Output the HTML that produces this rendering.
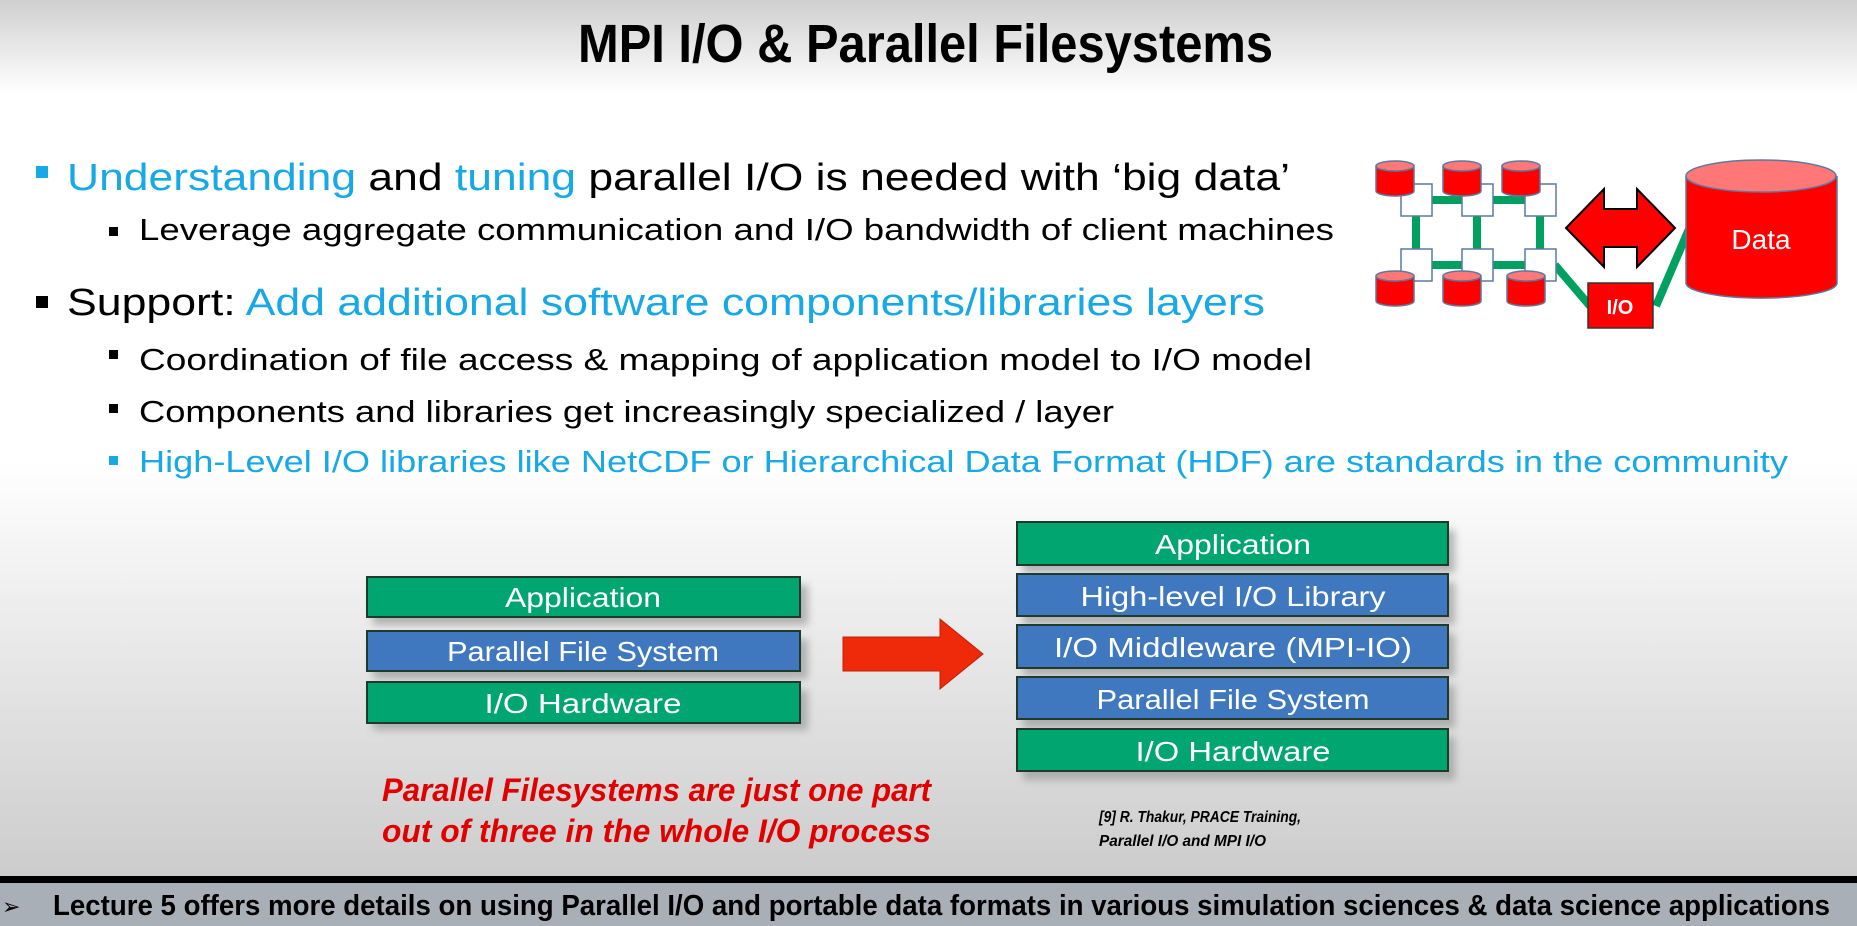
<!DOCTYPE html>
<html><head><meta charset="utf-8"><style>html,body{margin:0;padding:0;width:1857px;height:926px;overflow:hidden}svg{display:block}</style></head>
<body>
<svg width="1857" height="926" viewBox="0 0 1857 926" xmlns="http://www.w3.org/2000/svg" font-family="'Liberation Sans', sans-serif">
<defs>
<linearGradient id="bg" x1="0" y1="0" x2="0" y2="1">
<stop offset="0" stop-color="#cfcfcf"/>
<stop offset="0.1" stop-color="#ffffff"/>
<stop offset="0.5" stop-color="#ffffff"/>
<stop offset="1" stop-color="#c6c6c6"/>
</linearGradient>
<filter id="sh" x="-10%" y="-30%" width="130%" height="180%"><feGaussianBlur stdDeviation="4"/></filter>
</defs>
<rect width="1857" height="926" fill="url(#bg)"/>

<text x="578" y="62" font-size="54" font-weight="bold" textLength="695" lengthAdjust="spacingAndGlyphs">MPI I/O &amp; Parallel Filesystems</text>

<rect x="36" y="166" width="12" height="12" fill="#17a8e6"/>
<text x="67" y="190" font-size="38" textLength="1223" lengthAdjust="spacingAndGlyphs"><tspan fill="#17a8e6">Understanding</tspan> and <tspan fill="#17a8e6">tuning</tspan> parallel I/O is needed with ‘big data’</text>

<rect x="109" y="227" width="9" height="9" fill="#000"/>
<text x="139" y="240" font-size="31" textLength="1195" lengthAdjust="spacingAndGlyphs">Leverage aggregate communication and I/O bandwidth of client machines</text>

<rect x="36" y="296" width="12" height="12" fill="#000"/>
<text x="67" y="315" font-size="38" textLength="1198" lengthAdjust="spacingAndGlyphs">Support: <tspan fill="#17a8e6">Add additional software components/libraries layers</tspan></text>

<rect x="109" y="350" width="9" height="9" fill="#000"/>
<text x="139" y="370" font-size="31" textLength="1173" lengthAdjust="spacingAndGlyphs">Coordination of file access &amp; mapping of application model to I/O model</text>

<rect x="109" y="404" width="9" height="9" fill="#000"/>
<text x="139" y="422" font-size="31" textLength="975" lengthAdjust="spacingAndGlyphs">Components and libraries get increasingly specialized / layer</text>

<rect x="109" y="456" width="9" height="9" fill="#17a8e6"/>
<text x="139" y="472" font-size="31" fill="#17a8e6" textLength="1649" lengthAdjust="spacingAndGlyphs">High-Level I/O libraries like NetCDF or Hierarchical Data Format (HDF) are standards in the community</text>

<!-- top-right diagram -->
<g stroke="#00a060" stroke-width="8">
<line x1="1430" y1="200" x2="1464" y2="200"/><line x1="1491" y1="200" x2="1527" y2="200"/>
<line x1="1430" y1="265" x2="1464" y2="265"/><line x1="1491" y1="265" x2="1527" y2="265"/>
<line x1="1416" y1="214" x2="1416" y2="251"/><line x1="1477" y1="214" x2="1477" y2="251"/><line x1="1540" y1="214" x2="1540" y2="251"/>
<line x1="1555" y1="265" x2="1590" y2="306"/><line x1="1689" y1="229" x2="1656" y2="306"/>
</g>
<g fill="#fff" stroke="#5a7aa0" stroke-width="1.5">
<rect x="1401" y="184" width="31" height="32"/><rect x="1462" y="184" width="31" height="32"/><rect x="1525" y="184" width="31" height="32"/>
<rect x="1401" y="249" width="31" height="32"/><rect x="1462" y="249" width="31" height="32"/><rect x="1525" y="249" width="31" height="32"/>
</g>
<g stroke="#5a7aa0" stroke-width="1.5">
<g transform="translate(1376,160)"><path d="M0 6 V31 A19 5 0 0 0 38 31 V6" fill="#f00"/><ellipse cx="19" cy="6" rx="19" ry="5" fill="#f77"/></g>
<g transform="translate(1443,160)"><path d="M0 6 V31 A19 5 0 0 0 38 31 V6" fill="#f00"/><ellipse cx="19" cy="6" rx="19" ry="5" fill="#f77"/></g>
<g transform="translate(1502,160)"><path d="M0 6 V31 A19 5 0 0 0 38 31 V6" fill="#f00"/><ellipse cx="19" cy="6" rx="19" ry="5" fill="#f77"/></g>
<g transform="translate(1376,270)"><path d="M0 6 V31 A19 5 0 0 0 38 31 V6" fill="#f00"/><ellipse cx="19" cy="6" rx="19" ry="5" fill="#f77"/></g>
<g transform="translate(1443,270)"><path d="M0 6 V31 A19 5 0 0 0 38 31 V6" fill="#f00"/><ellipse cx="19" cy="6" rx="19" ry="5" fill="#f77"/></g>
<g transform="translate(1507,270)"><path d="M0 6 V31 A19 5 0 0 0 38 31 V6" fill="#f00"/><ellipse cx="19" cy="6" rx="19" ry="5" fill="#f77"/></g>
<path d="M1686 176 V283 A75 15 0 0 0 1837 283 V176" fill="#f00"/>
<ellipse cx="1761" cy="176" rx="75" ry="16" fill="#f77"/>
</g>
<text x="1761" y="249" font-size="28" fill="#fff" text-anchor="middle">Data</text>
<path d="M1566 228 L1604 189 V209 H1637 V189 L1675 228 L1637 267 V247 H1604 V267 Z" fill="#f00" stroke="#000" stroke-width="2"/>
<rect x="1588" y="283" width="65" height="45" fill="#f00" stroke="#333" stroke-width="1.5"/>
<text x="1620" y="314" font-size="20" font-weight="bold" fill="#fff" text-anchor="middle">I/O</text>

<!-- left stack -->
<g fill="#999" filter="url(#sh)" opacity="0.7">
<rect x="373" y="585" width="435" height="40"/><rect x="373" y="639" width="435" height="40"/><rect x="373" y="690" width="435" height="40"/>
<rect x="1023" y="530" width="432" height="43"/><rect x="1023" y="582" width="432" height="43"/><rect x="1023" y="633" width="432" height="43"/><rect x="1023" y="685" width="432" height="43"/><rect x="1023" y="737" width="432" height="43"/>
</g>
<g stroke="#1e3a2a" stroke-width="2">
<rect x="367" y="577" width="433" height="40" fill="#00a570"/>
<rect x="367" y="631" width="433" height="40" fill="#3f78bf"/>
<rect x="367" y="682" width="433" height="41" fill="#00a570"/>
<rect x="1017" y="522" width="431" height="43" fill="#00a570"/>
<rect x="1017" y="574" width="431" height="42" fill="#3f78bf"/>
<rect x="1017" y="625" width="431" height="43" fill="#3f78bf"/>
<rect x="1017" y="677" width="431" height="42" fill="#3f78bf"/>
<rect x="1017" y="729" width="431" height="42" fill="#00a570"/>
</g>
<g fill="#fff" font-size="28" text-anchor="middle">
<text x="583" y="607" textLength="156" lengthAdjust="spacingAndGlyphs">Application</text>
<text x="583" y="661" textLength="272" lengthAdjust="spacingAndGlyphs">Parallel File System</text>
<text x="583" y="713" textLength="197" lengthAdjust="spacingAndGlyphs">I/O Hardware</text>
<text x="1233" y="554" textLength="156" lengthAdjust="spacingAndGlyphs">Application</text>
<text x="1233" y="606" textLength="305" lengthAdjust="spacingAndGlyphs">High-level I/O Library</text>
<text x="1233" y="657" textLength="358" lengthAdjust="spacingAndGlyphs">I/O Middleware (MPI-IO)</text>
<text x="1233" y="709" textLength="273" lengthAdjust="spacingAndGlyphs">Parallel File System</text>
<text x="1233" y="761" textLength="195" lengthAdjust="spacingAndGlyphs">I/O Hardware</text>
</g>
<path d="M843 637 H940 V619 L983 654 L940 689 V671 H843 Z" fill="#ee2a0a" stroke="#c02000" stroke-width="1"/>

<g font-weight="bold" font-style="italic" fill="#e00000" font-size="32">
<text x="382" y="801" textLength="549" lengthAdjust="spacingAndGlyphs">Parallel Filesystems are just one part</text>
<text x="382" y="842" textLength="549" lengthAdjust="spacingAndGlyphs">out of three in the whole I/O process</text>
</g>
<g font-weight="bold" font-style="italic" fill="#000" font-size="16">
<text x="1099" y="822" textLength="202" lengthAdjust="spacingAndGlyphs">[9] R. Thakur, PRACE Training,</text>
<text x="1099" y="846" textLength="167" lengthAdjust="spacingAndGlyphs">Parallel I/O and MPI I/O</text>
</g>

<rect x="0" y="876" width="1857" height="7" fill="#000"/>
<rect x="0" y="883" width="1857" height="43" fill="#a9afb7"/>
<text x="2" y="914" font-size="22" fill="#000">➢</text>
<text x="53" y="915" font-size="29" font-weight="bold" textLength="1777" lengthAdjust="spacingAndGlyphs">Lecture 5 offers more details on using Parallel I/O and portable data formats in various simulation sciences &amp; data science applications</text>
</svg>
</body></html>
